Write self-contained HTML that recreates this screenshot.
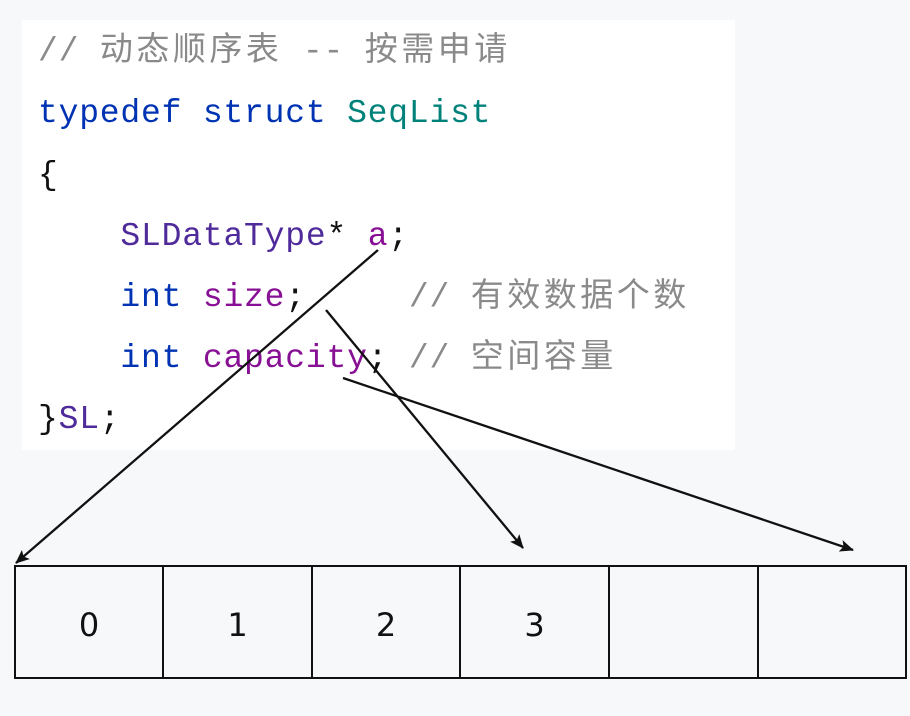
<!DOCTYPE html>
<html><head><meta charset="utf-8"><style>
body{margin:0;width:910px;height:716px;background:#f7f8fa;position:relative;overflow:hidden;font-family:"Liberation Mono","Noto Sans CJK SC",monospace}
.code{position:absolute;left:22px;top:20px;width:713px;height:430px;background:#fff}
.l{position:absolute;left:38px;font-size:33px;letter-spacing:0.8px;white-space:pre;line-height:40px}
.c{color:#8a8a8a}.k{color:#0033b3}.t{color:#00827a}.m{color:#871094}.s{color:#4f2a9a}.p{color:#111}
.z{letter-spacing:3.5px}
.cell{position:absolute;top:565px;height:114px;border:2px solid #111;box-sizing:border-box;font:32px "DejaVu Sans",sans-serif;color:#111;display:flex;align-items:center;justify-content:center;padding-top:6px}
</style></head><body>
<div class="code"></div>
<div class="l c" style="top:32px">// <span class="z">动态顺序表</span> -- <span class="z">按需申请</span></div>
<div class="l" style="top:94px"><span class="k">typedef struct </span><span class="t">SeqList</span></div>
<div class="l p" style="top:156px">{</div>
<div class="l" style="top:217px">    <span class="s">SLDataType</span><span class="p">* </span><span class="m">a</span><span class="p">;</span></div>
<div class="l" style="top:278px">    <span class="k">int </span><span class="m">size</span><span class="p">;</span>     <span class="c">// <span class="z">有效数据个数</span></span></div>
<div class="l" style="top:339px">    <span class="k">int </span><span class="m">capacity</span><span class="p">;</span> <span class="c">// <span class="z">空间容量</span></span></div>
<div class="l" style="top:400px"><span class="p">}</span><span class="s">SL</span><span class="p">;</span></div>
<div class="cell" style="left:14px;width:150px">0</div>
<div class="cell" style="left:162px;width:151px">1</div>
<div class="cell" style="left:311px;width:150px">2</div>
<div class="cell" style="left:459px;width:151px">3</div>
<div class="cell" style="left:608px;width:151px"></div>
<div class="cell" style="left:757px;width:150px"></div>
<svg width="910" height="716" style="position:absolute;left:0;top:0">
<defs><marker id="a" markerWidth="14" markerHeight="12" refX="13" refY="6" orient="auto" markerUnits="userSpaceOnUse"><path d="M0,0 L14,6 L0,12 L3,6 Z" fill="#111"/></marker></defs>
<g stroke="#111" stroke-width="2.3" fill="none">
<line x1="378" y1="250" x2="16" y2="563" marker-end="url(#a)"/>
<line x1="326" y1="310" x2="523" y2="548" marker-end="url(#a)"/>
<line x1="343" y1="378" x2="853" y2="550" marker-end="url(#a)"/>
</g></svg>
</body></html>
